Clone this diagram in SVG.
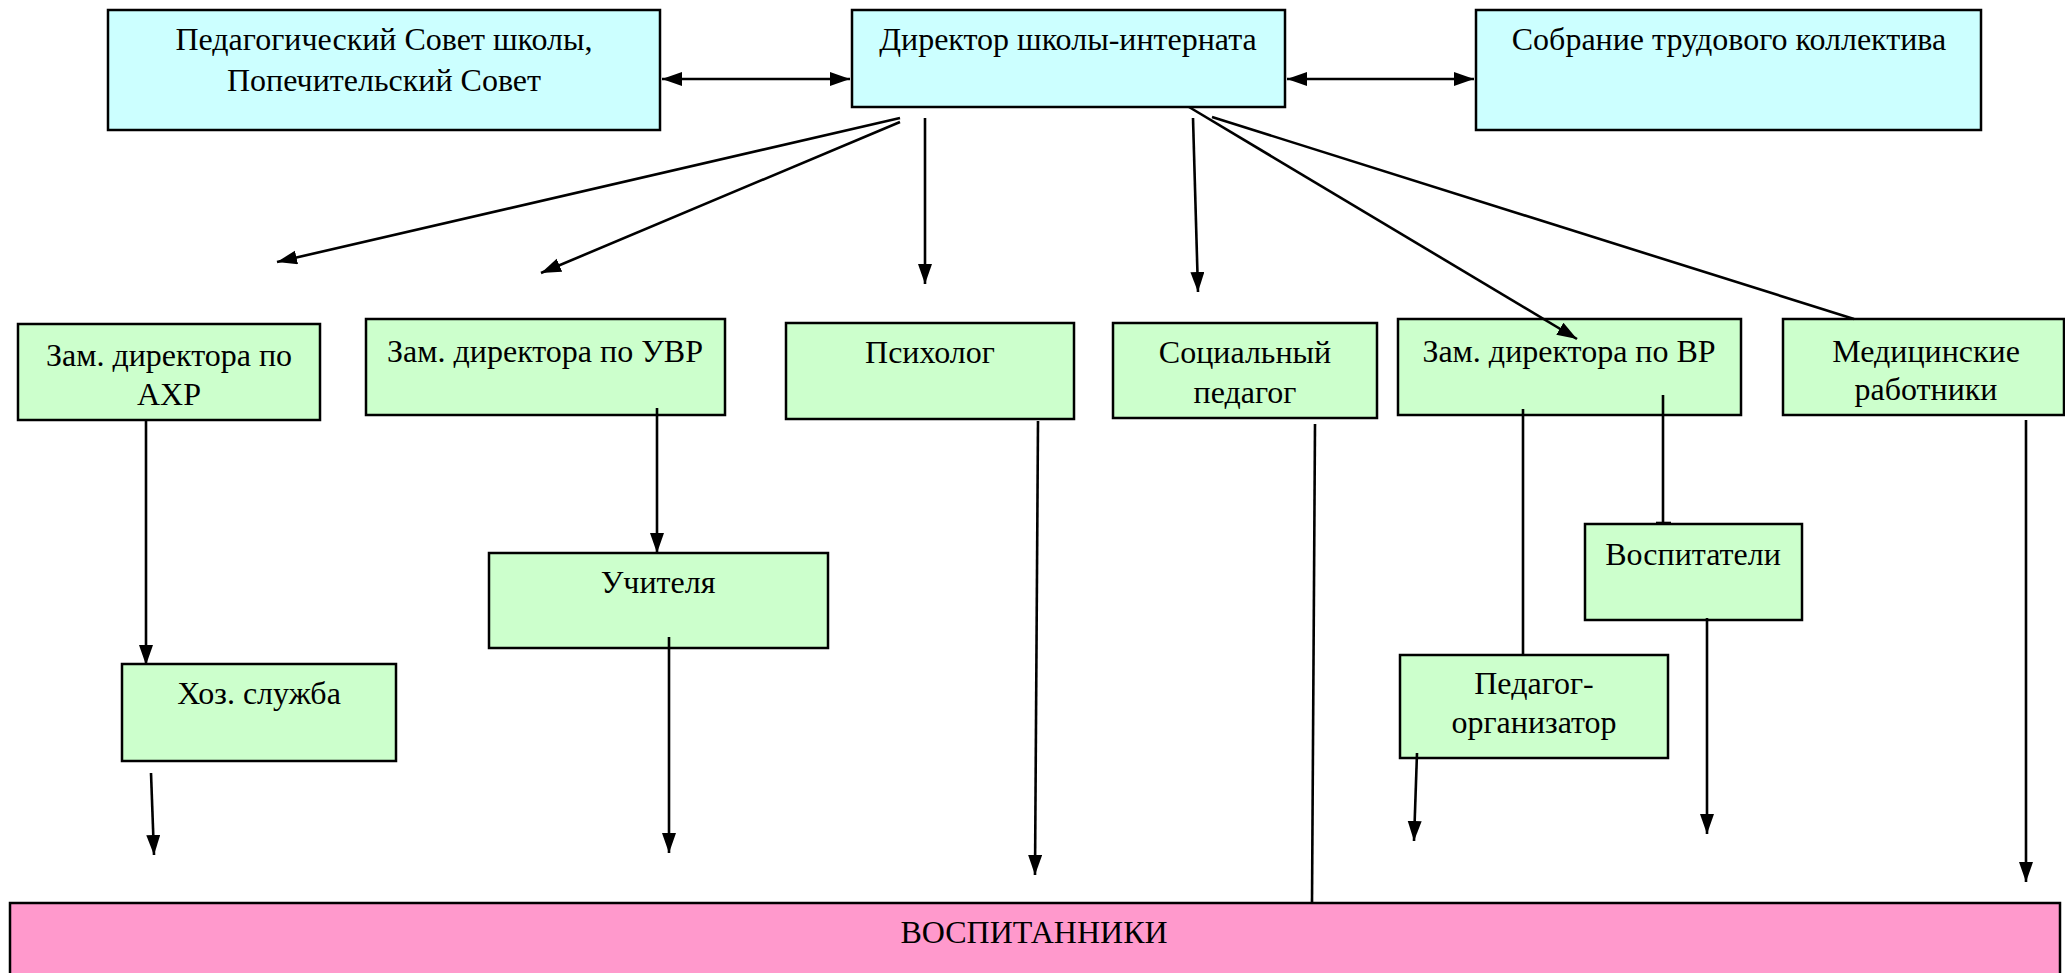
<svg xmlns="http://www.w3.org/2000/svg" width="2065" height="973" viewBox="0 0 2065 973">
<style>
.box{stroke:#000;stroke-width:2.5}
.cyan{fill:#CCFFFF}
.green{fill:#CCFFCC}
.pink{fill:#FF99CC}
text{font-family:'Times New Roman','Liberation Serif',serif;font-size:32px;fill:#000;text-anchor:middle}
.c line{stroke:#000;stroke-width:2.6;fill:none}
.a{marker-end:url(#ah)}
.d{marker-end:url(#ah);marker-start:url(#ah)}
</style>
<defs>
<marker id="ah" markerUnits="userSpaceOnUse" markerWidth="22" markerHeight="16" refX="20" refY="7" orient="auto-start-reverse" viewBox="0 0 22 16">
<path d="M0,0 L20,7 L0,14 z" fill="#000"/>
</marker>
</defs>
<rect width="2065" height="973" fill="#fff"/>

<g id="n-pedsovet"><rect class="box cyan" x="108" y="10" width="552" height="120"/><text x="384" y="50">Педагогический Совет школы,</text><text x="384" y="91">Попечительский Совет</text></g>
<g id="n-director"><rect class="box cyan" x="852" y="10" width="433" height="97"/><text x="1068" y="50">Директор школы-интерната</text></g>
<g id="n-sobranie"><rect class="box cyan" x="1476" y="10" width="505" height="120"/><text x="1729" y="50">Собрание трудового коллектива</text></g>

<g id="n-ahr"><rect class="box green" x="18" y="324" width="302" height="96"/><text x="169" y="366">Зам. директора по</text><text x="169" y="405">АХР</text></g>
<g id="n-uvr"><rect class="box green" x="366" y="319" width="359" height="96"/><text x="545" y="362">Зам. директора по УВР</text></g>
<g id="n-psy"><rect class="box green" x="786" y="323" width="288" height="96"/><text x="930" y="363">Психолог</text></g>
<g id="n-soc"><rect class="box green" x="1113" y="323" width="264" height="95"/><text x="1245" y="363">Социальный</text><text x="1245" y="403">педагог</text></g>
<g id="n-vr"><rect class="box green" x="1398" y="319" width="343" height="96"/><text x="1569" y="362">Зам. директора по ВР</text></g>
<g id="n-med"><rect class="box green" x="1783" y="319" width="281" height="96"/><text x="1926" y="362">Медицинские</text><text x="1926" y="400">работники</text></g>

<g id="n-uchitelya"><rect class="box green" x="489" y="553" width="339" height="95"/><text x="658" y="593">Учителя</text></g>
<g id="n-hoz"><rect class="box green" x="122" y="664" width="274" height="97"/><text x="259" y="704">Хоз. служба</text></g>
<g id="n-vospitateli"><rect class="box green" x="1585" y="524" width="217" height="96"/><text x="1693" y="565">Воспитатели</text></g>
<g id="n-pedorg"><rect class="box green" x="1400" y="655" width="268" height="103"/><text x="1534" y="694">Педагог-</text><text x="1534" y="733">организатор</text></g>

<g id="n-vospitanniki"><rect class="box pink" x="10" y="903" width="2050" height="80"/><text x="1034" y="943">ВОСПИТАННИКИ</text></g>

<g id="connectors" class="c">
<line class="d" x1="662" y1="79" x2="850" y2="79"/>
<line class="d" x1="1287" y1="79" x2="1474" y2="79"/>
<line class="a" x1="900" y1="118" x2="277" y2="262"/>
<line class="a" x1="900" y1="122" x2="541" y2="273"/>
<line class="a" x1="925" y1="118" x2="925" y2="284"/>
<line class="a" x1="1193" y1="118" x2="1198" y2="292"/>
<line class="a" x1="1189" y1="107" x2="1577" y2="339"/>
<line x1="1212" y1="117" x2="1854" y2="319"/>
<line class="a" x1="146" y1="421" x2="146" y2="665"/>
<line class="a" x1="657" y1="408" x2="657" y2="553"/>
<line class="a" x1="151" y1="773" x2="154" y2="855"/>
<line class="a" x1="669" y1="637" x2="669" y2="853"/>
<line class="a" x1="1038" y1="421" x2="1035" y2="875"/>
<line x1="1315" y1="424" x2="1312" y2="903"/>
<line x1="1523" y1="409" x2="1523" y2="655"/>
<line x1="1663" y1="395" x2="1663" y2="523"/>
<line x1="1656" y1="523" x2="1671" y2="523"/>
<line class="a" x1="1417" y1="753" x2="1414" y2="841"/>
<line class="a" x1="1707" y1="618" x2="1707" y2="834"/>
<line class="a" x1="2026" y1="420" x2="2026" y2="882"/>
</g>
</svg>
